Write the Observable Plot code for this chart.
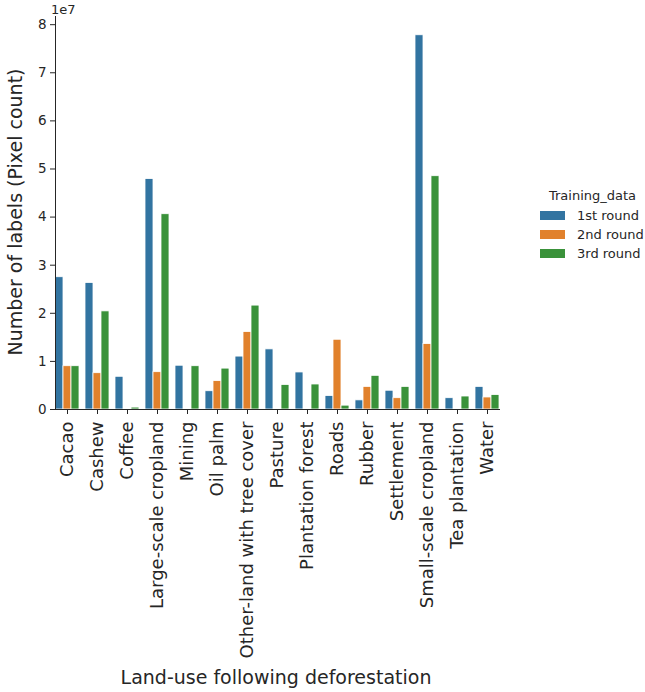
<!DOCTYPE html>
<html>
<head>
<meta charset="utf-8">
<script src="https://cdn.jsdelivr.net/npm/d3@7"></script>
<script src="https://cdn.jsdelivr.net/npm/@observablehq/plot@0.6"></script>
<style>
  html, body { margin: 0; padding: 0; background: #fff; }
  #wrap { position: relative; width: 645px; height: 692px; font-family: "DejaVu Sans", sans-serif; color: #262626; }
  #wrap svg { position: absolute; left: 0; top: 0; }
  .lbl { position: absolute; white-space: nowrap; font-size: 19px; line-height: 1; }
  #ylab { left: 15px; top: 212px; transform: translate(-50%, -50%) rotate(-90deg); }
  #xlab { left: 276px; top: 677px; transform: translate(-50%, -50%); }
  #exp { position: absolute; left: 51px; top: 2px; font-size: 13px; }
  #legend { position: absolute; left: 540px; top: 188px; width: 105px; font-size: 13px; }
  #legend .title { text-align: center; margin-bottom: 3px; }
  #legend .row { display: flex; align-items: center; height: 19px; }
  #legend .sw { width: 25px; height: 9px; margin-right: 12px; flex: none; }
</style>
</head>
<body>
<div id="wrap"></div>
<script>
const categories = ["Cacao","Cashew","Coffee","Large-scale cropland","Mining","Oil palm","Other-land with tree cover","Pasture","Plantation forest","Roads","Rubber","Settlement","Small-scale cropland","Tea plantation","Water"];
const rounds = ["1st round","2nd round","3rd round"];
// values in units of 1e7 pixels
const round1 = [2.75,2.63,0.68,4.79,0.91,0.38,1.10,1.25,0.77,0.28,0.19,0.39,7.78,0.235,0.47];
const round2 = [0.90,0.755,0,0.776,0,0.59,1.61,0,0,1.45,0.47,0.235,1.36,0,0.25];
const round3 = [0.90,2.04,0.04,4.06,0.90,0.85,2.16,0.51,0.52,0.08,0.70,0.47,4.85,0.27,0.30];
const yTicks = [0,1,2,3,4,5,6,7,8];
const colors = ["#3274a1","#e1812c","#3a923a"];

const series = [round1, round2, round3];
const data = [];
categories.forEach((c, i) => rounds.forEach((r, j) => data.push({category: c, round: r, value: series[j][i]})));

const chart = Plot.plot({
  width: 645, height: 692,
  marginLeft: 50, marginRight: 142, marginTop: 16, marginBottom: 283,
  style: {fontFamily: "DejaVu Sans, sans-serif", color: "#262626", background: "transparent"},
  fx: {domain: categories, paddingInner: 0.2, paddingOuter: 0.1, label: null},
  x: {domain: rounds, padding: 0, axis: null},
  y: {domain: [0, 8.17], axis: null},
  color: {domain: rounds, range: colors},
  marks: [
    Plot.barY(data, {fx: "category", x: "round", y: "value", fill: "round", stroke: "white", strokeWidth: 0.8}),
    Plot.axisY({ticks: yTicks, tickSize: 5, tickPadding: 4, fontSize: 13.5, label: null, tickFormat: d => d}),
    Plot.axisFx({anchor: "bottom", tickRotate: -90, tickSize: 5, tickPadding: 7, fontSize: 18, label: null}),
    Plot.frame({anchor: "left", facet: "super", stroke: "#262626"}),
    Plot.frame({anchor: "bottom", facet: "super", stroke: "#262626"})
  ]
});

const wrap = document.getElementById("wrap");
wrap.appendChild(chart);

const add = (id, cls, text) => { const d = document.createElement("div"); d.id = id; if (cls) d.className = cls; d.textContent = text; wrap.appendChild(d); return d; };
add("ylab", "lbl", "Number of labels (Pixel count)");
add("xlab", "lbl", "Land-use following deforestation");
add("exp", "", "1e7");
const lg = add("legend", "", "");
const t = document.createElement("div"); t.className = "title"; t.textContent = "Training_data"; lg.appendChild(t);
rounds.forEach((r, j) => {
  const row = document.createElement("div"); row.className = "row";
  const sw = document.createElement("div"); sw.className = "sw"; sw.style.background = colors[j];
  const tx = document.createElement("span"); tx.textContent = r;
  row.appendChild(sw); row.appendChild(tx); lg.appendChild(row);
});
</script>
</body>
</html>
